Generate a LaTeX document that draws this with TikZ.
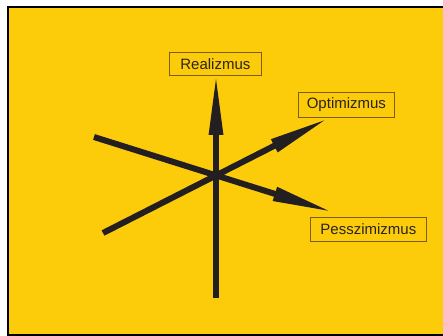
\documentclass[tikz,border=0pt]{standalone}
\usepackage{fontspec}
\setmainfont{Liberation Sans}
\usetikzlibrary{arrows.meta}
\definecolor{bgyellow}{HTML}{FCCB0A}
\definecolor{boxline}{HTML}{7A5E10}
\definecolor{inkdark}{HTML}{231F20}
\definecolor{txt}{HTML}{2A2420}
\begin{document}
\begin{tikzpicture}[x=1pt,y=-1pt,
  lbl/.style={draw=boxline,line width=0.8pt,fill=none,text=txt,font=\fontsize{15}{16}\selectfont,inner xsep=4pt,inner ysep=0pt,minimum height=23pt,anchor=north west},
  axis/.style={draw=inkdark,line width=6pt},
  axarrow/.style={axis,-{Triangle[length=62pt,width=13pt]}}]
\useasboundingbox (0,0) rectangle (443,336);
\fill[white] (0,0) rectangle (443,336);
\fill[bgyellow] (8,7) rectangle (446,335);
\draw[black,line width=2pt] (8,7) rectangle (446,335);
% labels
\node[lbl,minimum width=92pt] (real) at (169,52) {Realizmus};
\node[lbl,minimum width=96pt,minimum height=25pt] (opt) at (298,92) {Optimizmus};
\node[lbl,minimum width=116pt,minimum height=24pt] (pess) at (310,217) {Pesszimizmus};
% coordinates
\coordinate (c) at (216,175);
\coordinate (vbot) at (216,298);
\coordinate (vtip) at (216,73);
\coordinate (l1) at (94,137);
\coordinate (ptip) at (334,212.5);
\coordinate (l2) at (103,233);
\coordinate (otip) at (329.5,117.7);
% axes
\draw[axarrow] (vbot) -- (vtip);
\draw[axarrow] (l1) -- (ptip);
\draw[axarrow] (l2) -- (otip);
\end{tikzpicture}
\end{document}
